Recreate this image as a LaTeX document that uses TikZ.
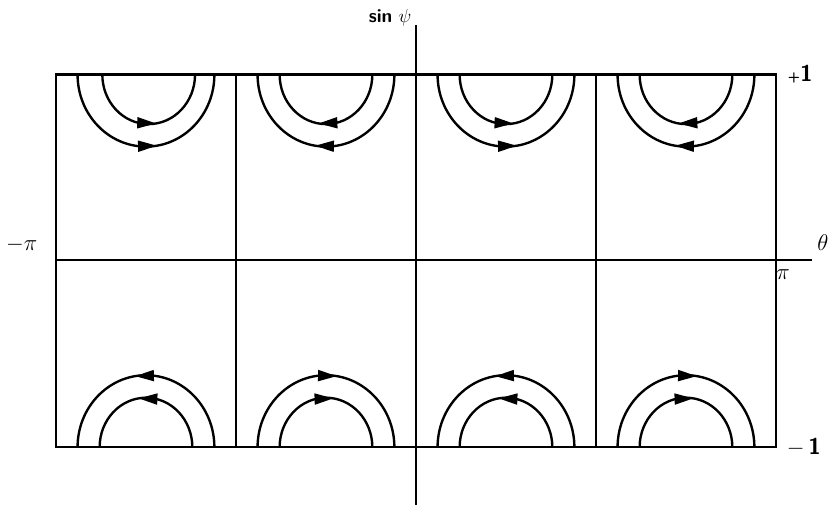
\documentclass[tikz,border=0pt]{standalone}
\usetikzlibrary{arrows.meta,decorations.markings}

\tikzset{
  cell line/.style={line width=1.6pt},
  flow/.style={line width=1.5pt, postaction={decorate},
    decoration={markings, mark=at position 0.55 with
      {\pgftransformrotate{#1}\arrow{Triangle[length=4.2mm,width=2.4mm]}}}},
  outer/.style={x radius=0.76, y radius=0.80},
  inner/.style={x radius=0.515, y radius=0.55},
  axis label/.style={font=\Large},
  tick label/.style={font=\Large\sffamily\bfseries},
}

\begin{document}
\begin{tikzpicture}[x=2cm,y=2cm]
  \useasboundingbox (-4.622,-2.778) rectangle (4.589,2.889);

  % Axis ends
  \coordinate (top)    at (0, 2.61);
  \coordinate (bottom) at (0,-2.72);
  \coordinate (left)   at (-4, 0);
  \coordinate (right)  at (4.4, 0);

  % Frame and cell walls
  \draw[cell line] (-4,-2.08) rectangle (4,2.06);
  \draw[cell line] (-2,-2.08) -- (-2,2.06);
  \draw[cell line] ( 2,-2.08) -- ( 2,2.06);

  % Axes
  \draw[cell line] (left) -- (right);
  \draw[cell line] (bottom) -- (top);

  % Upper row of half circles
  \draw[flow=-8]  (-3.76,2.06)  arc[start angle=180, end angle=360, outer];
  \draw[flow=-12] (-3.485,2.06) arc[start angle=180, end angle=360, inner];
  \draw[flow=8]   (-0.24,2.06)  arc[start angle=0, end angle=-180, outer];
  \draw[flow=12]  (-0.485,2.06) arc[start angle=0, end angle=-180, inner];
  \draw[flow=-8]  ( 0.24,2.06)  arc[start angle=180, end angle=360, outer];
  \draw[flow=-12] ( 0.485,2.06) arc[start angle=180, end angle=360, inner];
  \draw[flow=8]   ( 3.76,2.06)  arc[start angle=0, end angle=-180, outer];
  \draw[flow=12]  ( 3.515,2.06) arc[start angle=0, end angle=-180, inner];

  % Lower row of half circles
  \draw[flow=-8]  (-2.24,-2.08)  arc[start angle=0, end angle=180, outer];
  \draw[flow=-12] (-2.485,-2.08) arc[start angle=0, end angle=180, inner];
  \draw[flow=8]   (-1.76,-2.08)  arc[start angle=180, end angle=0, outer];
  \draw[flow=12]  (-1.515,-2.08) arc[start angle=180, end angle=0, inner];
  \draw[flow=-8]  ( 1.76,-2.08)  arc[start angle=0, end angle=180, outer];
  \draw[flow=-12] ( 1.515,-2.08) arc[start angle=0, end angle=180, inner];
  \draw[flow=8]   ( 2.24,-2.08)  arc[start angle=180, end angle=0, outer];
  \draw[flow=12]  ( 2.485,-2.08) arc[start angle=180, end angle=0, inner];

  % Labels
  \node[font=\large, anchor=east] (sinpsi) at (0.01,2.69) {\textsf{\textbf{sin}} $\psi$};
  \node[axis label] (theta)   at (4.52, 0.19) {$\theta$};
  \node[axis label] (minuspi) at (-4.38, 0.17) {$-\pi$};
  \node[axis label] (pi)      at (4.08,-0.16) {$\pi$};
  \node[tick label] (plusone)  at (4.27, 2.07) {{\small +}1};
  \node[tick label] (minusone) at (4.31,-2.08) {$-$\,1};

\end{tikzpicture}
\end{document}
